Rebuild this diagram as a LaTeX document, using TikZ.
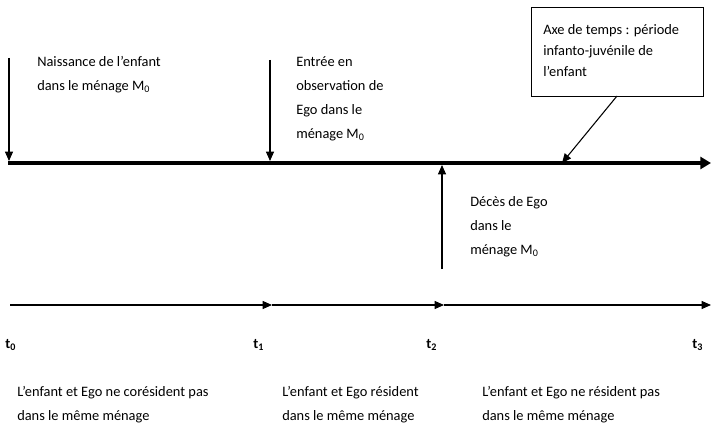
\documentclass[tikz,border=0pt]{standalone}
\usepackage{fontspec}
\setmainfont{Carlito}
\usetikzlibrary{arrows.meta}
\begin{document}
\begin{tikzpicture}[x=0.75pt,y=-0.75pt,
  lbl/.style={anchor=north west,inner sep=0pt,align=left,font=\fontsize{10.8pt}{18pt}\selectfont},
  boxlbl/.style={anchor=north west,inner sep=0pt,align=left,font=\fontsize{10.8pt}{16pt}\selectfont},
  tlbl/.style={anchor=base west,inner sep=0pt,font=\fontsize{10.8pt}{12pt}\selectfont\bfseries},
  thin arrow/.style={line width=0.8pt,-{Triangle[length=7pt,width=6pt]}},
  axis/.style={line width=3pt,-{Triangle[length=8pt,width=9pt]}},
  seg/.style={line width=0.8pt,-{Triangle[length=7pt,width=6pt]}}]
\useasboundingbox (0,0) rectangle (711,428);
% main axis
\coordinate (a0) at (8,163);
\coordinate (aP) at (562,163);
\coordinate (aE) at (711,163);
\draw[axis] (a0) -- (aE);
% event arrows
\coordinate (e0) at (9,58);
\coordinate (e0b) at (9,161);
\coordinate (e1) at (270,60);
\coordinate (e1b) at (270,161);
\coordinate (e2) at (442,269);
\coordinate (e2b) at (442,165);
\draw[thin arrow] (e0) -- (e0b);
\draw[thin arrow] (e1) -- (e1b);
\draw[thin arrow] (e2) -- (e2b);
% labels
\node[lbl] (n0) at (37,56) {Naissance de l’enfant\\dans le ménage M\textsubscript{0}};
\node[lbl] (n1) at (296,56) {Entrée en\\observation de\\Ego dans le\\ménage M\textsubscript{0}};
\node[lbl] (n2) at (470,196) {Décès de Ego\\dans le\\ménage M\textsubscript{0}};
% callout box
\node[draw,line width=0.6pt,inner sep=0pt,minimum width=129pt,minimum height=66.75pt,anchor=north west] (box) at (531,7) {};
\node[boxlbl] (bt) at (543,24) {Axe de temps : période\\infanto-juvénile de\\l’enfant};
\coordinate (boxb) at (617,96);
\draw[thin arrow] (boxb) -- (aP);
% lower time line
\coordinate (b0) at (10,305);
\coordinate (b1) at (272,305);
\coordinate (b2) at (444,305);
\coordinate (b3) at (711,305);
\draw[seg] (b0) -- (b1);
\draw[seg] (b1) -- (b2);
\draw[seg] (b2) -- (b3);
\node[tlbl] (t0) at (5,348) {t\textsubscript{0}};
\node[tlbl] (t1) at (253,348) {t\textsubscript{1}};
\node[tlbl] (t2) at (426,348) {t\textsubscript{2}};
\node[tlbl] (t3) at (692,348) {t\textsubscript{3}};
\node[lbl] (p0) at (17,386) {L’enfant et Ego ne corésident pas\\dans le même ménage};
\node[lbl] (p1) at (282,386) {L’enfant et Ego résident\\dans le même ménage};
\node[lbl] (p2) at (482,386) {L’enfant et Ego ne résident pas\\dans le même ménage};
\end{tikzpicture}
\end{document}
